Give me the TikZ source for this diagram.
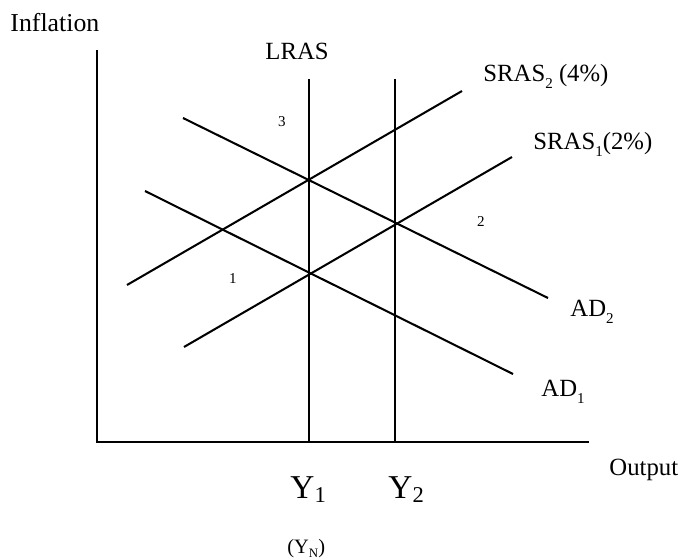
\documentclass[tikz,border=0pt]{standalone}
\usepackage{fontspec}
\setmainfont{Liberation Serif}
\usepackage{tikz}
\usetikzlibrary{positioning}

\newcommand{\lowsub}[1]{\raisebox{-2.8pt}{\fontsize{7}{8}\selectfont #1}}
\newcommand{\ysub}[1]{\raisebox{-1.9pt}{\fontsize{10.5}{11}\selectfont #1}}

\tikzset{
  curve/.style={line width=0.95pt},
  axis/.style={line width=1.1pt},
  lbl/.style={inner sep=0pt, anchor=base west, font=\fontsize{11.5}{13}\selectfont},
  pt/.style={inner sep=0pt, font=\fontsize{7}{8}\selectfont}
}

\begin{document}
\begin{tikzpicture}[x=0.465pt,y=-0.465pt]
\useasboundingbox (0,0) rectangle (681,559);

\coordinate (ytop) at (97,50);
\coordinate (origin) at (97,442);
\coordinate (xend) at (589,442);
\coordinate (lrastop) at (309,79);
\coordinate (lrasbot) at (309,442);
\coordinate (ytwotop) at (395,79);
\coordinate (ytwobot) at (395,442);

\coordinate (srastwoa) at (127,285);
\coordinate (srastwob) at (462,91);
\coordinate (srasonea) at (184,347);
\coordinate (srasoneb) at (512,157);
\coordinate (adtwoa) at (183,118);
\coordinate (adtwob) at (548,298);
\coordinate (adonea) at (145,191);
\coordinate (adoneb) at (513,374);

\draw[axis] (ytop) -- (origin) -- (xend);
\draw[curve] (lrastop) -- (lrasbot);
\draw[curve] (ytwotop) -- (ytwobot);
\draw[curve] (srastwoa) -- (srastwob);
\draw[curve] (srasonea) -- (srasoneb);
\draw[curve] (adtwoa) -- (adtwob);
\draw[curve] (adonea) -- (adoneb);

\node[lbl, font=\fontsize{12}{14}\selectfont] (inflation) at (10,32) {Inflation};
\node[lbl] (lras) at (265,60) {LRAS};
\node[lbl] (srastwo) at (483,82) {SRAS\lowsub{2} (4\%)};
\node[lbl] (srasone) at (533,150) {SRAS\lowsub{1}(2\%)};
\node[lbl] (adtwo) at (570,317) {AD\lowsub{2}};
\node[lbl] (adone) at (541,397) {AD\lowsub{1}};
\node[lbl] (output) at (609,475) {Output};

\node[pt] (three) at (282,122) {3};
\node[pt] (two) at (481,222) {2};
\node[pt] (one) at (233,279) {1};

\node[lbl, font=\fontsize{15.5}{17}\selectfont] (yone) at (290,498) {Y\ysub{1}};
\node[lbl, font=\fontsize{15.5}{17}\selectfont] (ytwo) at (388,498) {Y\ysub{2}};
\node[lbl, font=\fontsize{9.5}{11}\selectfont] (yn) at (287,553) {(Y\raisebox{-2pt}{\fontsize{6}{7}\selectfont N})};

\end{tikzpicture}
\end{document}
